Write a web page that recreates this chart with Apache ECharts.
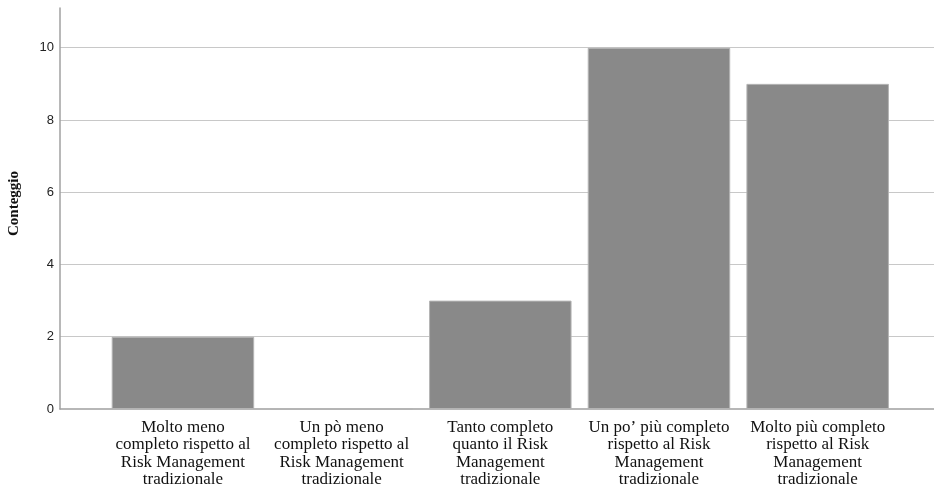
<!DOCTYPE html>
<html>
<head>
<meta charset="utf-8">
<script src="https://cdn.jsdelivr.net/npm/echarts@6/dist/echarts.min.js"></script>
<style>html,body{margin:0;padding:0;background:#fff}#c{width:934px;height:491px}</style>
</head>
<body>
<div id="c"></div>
<script>
var categories = [
  "Molto meno\ncompleto rispetto al\nRisk Management\ntradizionale",
  "Un pò meno\ncompleto rispetto al\nRisk Management\ntradizionale",
  "Tanto completo\nquanto il Risk\nManagement\ntradizionale",
  "Un po’ più completo\nrispetto al Risk\nManagement\ntradizionale",
  "Molto più completo\nrispetto al Risk\nManagement\ntradizionale"
];
var counts = [2, 0, 3, 10, 9];
var yTicks = [0, 2, 4, 6, 8, 10];
var yName = "Conteggio";

var chart = echarts.init(document.getElementById('c'), null, {renderer: 'canvas'});
var yMax = 11.1;
chart.setOption({
  animation: false,
  backgroundColor: '#ffffff',
  grid: [
    {left: 60, right: 0, top: 8, bottom: 82, containLabel: false, outerBoundsMode: 'none'},
    {left: 103.6, right: 37, top: 8, bottom: 82, containLabel: false, outerBoundsMode: 'none'}
  ],
  xAxis: [
    {gridIndex: 0, type: 'value', min: 0, max: 1,
     axisLine: {show: true, onZero: false, lineStyle: {color: '#a0a0a0', width: 1.5}},
     axisTick: {show: false}, axisLabel: {show: false}, splitLine: {show: false}},
    {gridIndex: 1, type: 'category', data: categories,
     axisLine: {show: false}, axisTick: {show: false},
     axisLabel: {interval: 0, margin: 10, fontFamily: 'Liberation Serif', fontSize: 17, lineHeight: 17.3, color: '#111', align: 'center'}}
  ],
  yAxis: [
    {gridIndex: 0, type: 'value', min: 0, max: yMax, interval: 2,
     name: yName, nameLocation: 'middle', nameGap: 38, nameRotate: 90,
     nameTextStyle: {fontFamily: 'Liberation Serif', fontWeight: 'bold', fontSize: 15, color: '#111', padding: [0, 0, 0, 10]},
     axisLine: {show: true, lineStyle: {color: '#a0a0a0', width: 1.5}},
     axisTick: {show: false},
     axisLabel: {margin: 6, fontFamily: 'Liberation Sans', fontSize: 13, color: '#222', showMaxLabel: false,
       formatter: function(v){ return yTicks.indexOf(v) >= 0 ? String(v) : ''; }},
     splitLine: {show: true, showMinLine: false, showMaxLine: false, lineStyle: {color: '#c8c8c8', width: 1.2}}},
    {gridIndex: 1, type: 'value', min: 0, max: yMax, show: false, splitLine: {show: false}}
  ],
  series: [{
    type: 'bar', xAxisIndex: 1, yAxisIndex: 1, data: counts,
    barCategoryGap: '10.2%',
    itemStyle: {color: '#898989', borderColor: '#b4b4b4', borderWidth: 1}
  }]
});
</script>
</body>
</html>
